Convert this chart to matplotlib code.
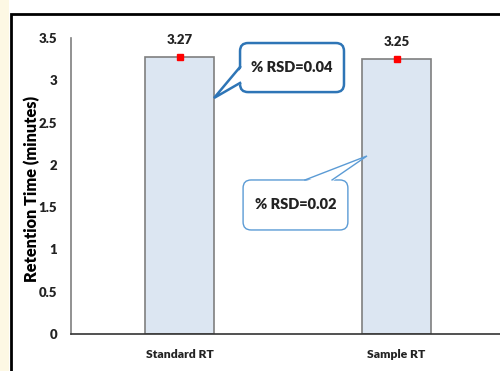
import matplotlib.pyplot as plt
from matplotlib.patches import FancyBboxPatch, Polygon, Rectangle
import numpy as np

categories = ['Standard RT', 'Sample RT']
rt_values = [3.27, 3.25]
rsd_labels = ['% RSD=0.04', '% RSD=0.02']
yticks = [0, 0.5, 1, 1.5, 2, 2.5, 3, 3.5]
ytick_labels = ['0', '0.5', '1', '1.5', '2', '2.5', '3', '3.5']

fnt = ['Lato', 'DejaVu Sans']
plt.rcParams['font.family'] = fnt
wt = 'heavy'

fig = plt.figure(figsize=(5, 3.71), dpi=100)

# yellow strip and outer frame
fig.patches.append(Rectangle((0, 0), 0.018, 1, transform=fig.transFigure,
                             facecolor='#fdf8e4', edgecolor='none'))
fig.patches.append(Rectangle((0.022, -0.1), 1.2, 1.062, transform=fig.transFigure,
                             facecolor='none', edgecolor='black', linewidth=2))

ax = fig.add_axes([0.142, 0.0997, 0.868, 0.798])
x = np.arange(len(categories))
w = 0.315
ax.bar(x, rt_values, width=w, color='#dce6f2', edgecolor='#7f7f7f', linewidth=1.2, zorder=2)
ax.plot(x, rt_values, 's', color='red', markersize=4, zorder=3)
for xi, v in zip(x, rt_values):
    ax.text(xi, v + 0.13, f'{v:.2f}', ha='center', va='bottom', fontsize=9.5,
            fontweight=wt, color='#222222')

ax.set_xlim(-0.5, 1.5)
ax.set_ylim(0, 3.5)
ax.set_yticks(yticks)
ax.set_yticklabels(ytick_labels, fontsize=9.5, fontweight=wt, color='#222222')
ax.set_xticks(x)
ax.set_xticklabels(categories, fontsize=8.7, fontweight=wt, color='#222222')
ax.tick_params(length=0)
ax.tick_params(axis='y', pad=10)
ax.tick_params(axis='x', pad=11)
ax.set_ylabel('Retention Time (minutes)', fontsize=11.8, fontweight=wt)
ax.yaxis.set_label_coords(-0.072, 0.49)
for s in ['top', 'right']:
    ax.spines[s].set_visible(False)
ax.spines['left'].set_color('#7f7f7f')
ax.spines['left'].set_linewidth(1.2)
ax.spines['bottom'].set_color('#333333')
ax.spines['bottom'].set_linewidth(1.2)

# callouts: box (x0, y0, x1, y1), tail base points and tip
aspect = 2.565
callouts = [
    dict(box=(0.279, 2.86, 0.758, 3.44), base=[(0.29, 3.157), (0.29, 2.968)],
         tip=(0.159, 2.79), color='#2e75b6', lw=1.8, text=rsd_labels[0]),
    dict(box=(0.293, 1.23, 0.776, 1.821), base=[(0.578, 1.80), (0.703, 1.80)],
         tip=(0.864, 2.105), color='#5b9bd5', lw=1.0, text=rsd_labels[1]),
]
for c in callouts:
    x0, y0, x1, y1 = c['box']
    box = FancyBboxPatch((x0, y0), x1 - x0, y1 - y0,
                         boxstyle='round,pad=0,rounding_size=0.037',
                         mutation_aspect=aspect, facecolor='white',
                         edgecolor=c['color'], linewidth=c['lw'], zorder=4)
    ax.add_patch(box)
    b1, b2 = c['base']
    ax.add_patch(Polygon([b1, c['tip'], b2], closed=True, facecolor='white',
                         edgecolor='none', zorder=5))
    if b1[0] == b2[0]:
        e1, e2 = (x0, b1[1]), (x0, b2[1])
    else:
        e1, e2 = (b1[0], y1), (b2[0], y1)
    ax.plot([e1[0], c['tip'][0], e2[0]], [e1[1], c['tip'][1], e2[1]],
            color=c['color'], linewidth=c['lw'], zorder=6, solid_joinstyle='miter')
    ax.text((x0 + x1) / 2, (y0 + y1) / 2, c['text'], ha='center', va='center',
            fontsize=10.5, fontweight=wt, color='#222222', zorder=7)

fig.savefig('out.png', dpi=100)
